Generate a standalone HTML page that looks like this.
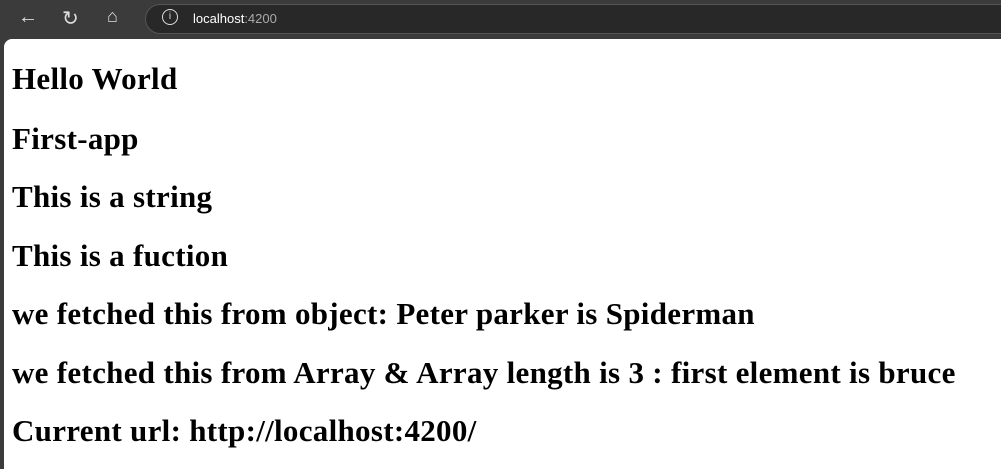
<!DOCTYPE html>
<html><head><style>
body{margin:0;width:1001px;height:467px;background:#3b3b3b;position:relative;overflow:hidden;font-family:"Liberation Sans",sans-serif}
.pill{position:absolute;left:145px;top:4px;width:880px;height:30px;border-radius:15px;background:#282828;border:1px solid #555;box-sizing:border-box}
.url{position:absolute;left:193px;top:11px;font-size:13px;color:#fff}
.url span{color:#aaa}
.ic{position:absolute;color:#ddd;font-size:20px;top:6px}
.page{position:absolute;left:4px;top:39px;width:1000px;height:430px;background:#fff;border-top-left-radius:8px}
.t{position:absolute;left:12px;font-family:"Liberation Serif",serif;font-weight:bold;font-size:31px;letter-spacing:0.3px;color:#000;white-space:nowrap;line-height:1}
</style></head><body>
<div class="ic" style="left:18px">&#8592;</div>
<div class="ic" style="left:62px">&#8635;</div>
<div class="ic" style="left:107px;font-size:18px">&#8962;</div>
<div class="pill"></div>
<div class="ic" style="left:162px;top:9px;width:14px;height:14px;border:1.5px solid #ddd;border-radius:50%;font-size:10px;text-align:center;line-height:14px">i</div>
<div class="url">localhost<span>:4200</span></div>
<div class="page"></div>
<div class="t" style="top:63px">Hello World</div>
<div class="t" style="top:123px">First-app</div>
<div class="t" style="top:181px">This is a string</div>
<div class="t" style="top:240px">This is a fuction</div>
<div class="t" style="top:298px">we fetched this from object: Peter parker is Spiderman</div>
<div class="t" style="top:357px">we fetched this from Array &amp; Array length is 3 : first element is bruce</div>
<div class="t" style="top:415px">Current url: http://localhost:4200/</div>
</body></html>
